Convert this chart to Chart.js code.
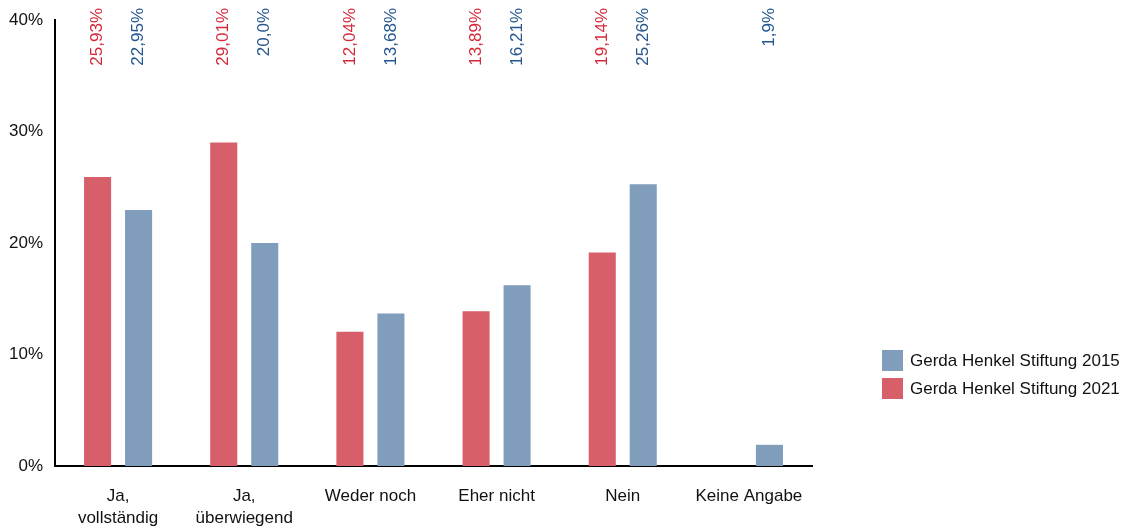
<!DOCTYPE html>
<html>
<head>
<meta charset="utf-8">
<script src="https://cdn.jsdelivr.net/npm/chart.js@4/dist/chart.umd.min.js"></script>
<style>
  html, body { margin: 0; padding: 0; background: #fff; }
  .wrap { position: relative; width: 1139px; height: 528px; }
  .legend { position: absolute; left: 882px; top: 350px; font: 17px "Liberation Sans", Arial, sans-serif; color: #111; }
  .legend__item { display: flex; align-items: center; height: 21px; margin-bottom: 7px; white-space: nowrap; }
  .legend__box { width: 21px; height: 21px; margin-right: 7px; flex: none; }
</style>
</head>
<body>
<div class="wrap">
  <canvas id="chart" width="1139" height="528"></canvas>
  <div class="legend" id="legend"></div>
</div>
<script>
const categories = [["Ja,", "vollständig"], ["Ja,", "überwiegend"], "Weder noch", "Eher nicht", "Nein", "Keine Angabe"];
const values2021 = [25.93, 29.01, 12.04, 13.89, 19.14, null];
const values2015 = [22.95, 20.0, 13.68, 16.21, 25.26, 1.9];
const labels2021 = ["25,93%", "29,01%", "12,04%", "13,89%", "19,14%", ""];
const labels2015 = ["22,95%", "20,0%", "13,68%", "16,21%", "25,26%", "1,9%"];
const yTicks = [0, 10, 20, 30, 40];

const FONT = `"Liberation Sans", Arial, sans-serif`;
const RED = `#d65f69`;
const BLUE = `#809dbb`;

const datasets = [
  {label: `Gerda Henkel Stiftung 2021`, data: values2021, backgroundColor: RED, textColor: `#d42a3b`, texts: labels2021},
  {label: `Gerda Henkel Stiftung 2015`, data: values2015, backgroundColor: BLUE, textColor: `#24568f`, texts: labels2015}
];

// подписи значений сверху, повёрнутые на 90 градусов
const topLabels = {
  id: `topLabels`,
  afterDatasetsDraw(chart) {
    const {ctx} = chart;
    chart.data.datasets.forEach((ds, i) => {
      chart.getDatasetMeta(i).data.forEach((bar, j) => {
        if (!ds.texts[j]) {
          return;
        }
        ctx.save();
        ctx.translate(bar.x, 8);
        ctx.rotate(-Math.PI / 2);
        ctx.font = `17px ${FONT}`;
        ctx.fillStyle = ds.textColor;
        ctx.textAlign = `right`;
        ctx.textBaseline = `middle`;
        ctx.fillText(ds.texts[j], 0, 0);
        ctx.restore();
      });
    });
  }
};

new Chart(document.getElementById(`chart`), {
  type: `bar`,
  data: {
    labels: categories,
    datasets: datasets.map((ds) => ({
      label: ds.label,
      data: ds.data,
      backgroundColor: ds.backgroundColor,
      hoverBackgroundColor: ds.backgroundColor,
      textColor: ds.textColor,
      texts: ds.texts,
      categoryPercentage: 0.65,
      barPercentage: 0.66
    }))
  },
  options: {
    responsive: false,
    animation: false,
    layout: {padding: {top: 20, right: 327, left: 0, bottom: 0}},
    plugins: {legend: {display: false}, tooltip: {enabled: false}},
    scales: {
      x: {
        grid: {display: false},
        border: {display: true, color: `#000`, width: 2},
        ticks: {color: `#111`, font: {family: FONT, size: 17, lineHeight: 1.25}, padding: 12, maxRotation: 0},
        afterFit(scale) { scale.height = 62; }
      },
      y: {
        min: 0,
        max: 40,
        grid: {display: false},
        border: {display: true, color: `#000`, width: 2},
        afterBuildTicks(scale) { scale.ticks = yTicks.map((v) => ({value: v})); },
        ticks: {color: `#111`, font: {family: FONT, size: 17}, padding: 4, callback: (v) => `${v}%`},
        afterFit(scale) { scale.width = 55; }
      }
    }
  },
  plugins: [topLabels]
});

// легенда: 2015 сверху, 2021 снизу
const legend = document.getElementById(`legend`);
legend.innerHTML = datasets.slice().reverse().map((ds) => `
  <div class="legend__item"><span class="legend__box" style="background:${ds.backgroundColor}"></span>${ds.label}</div>`).join(``);
</script>
</body>
</html>
